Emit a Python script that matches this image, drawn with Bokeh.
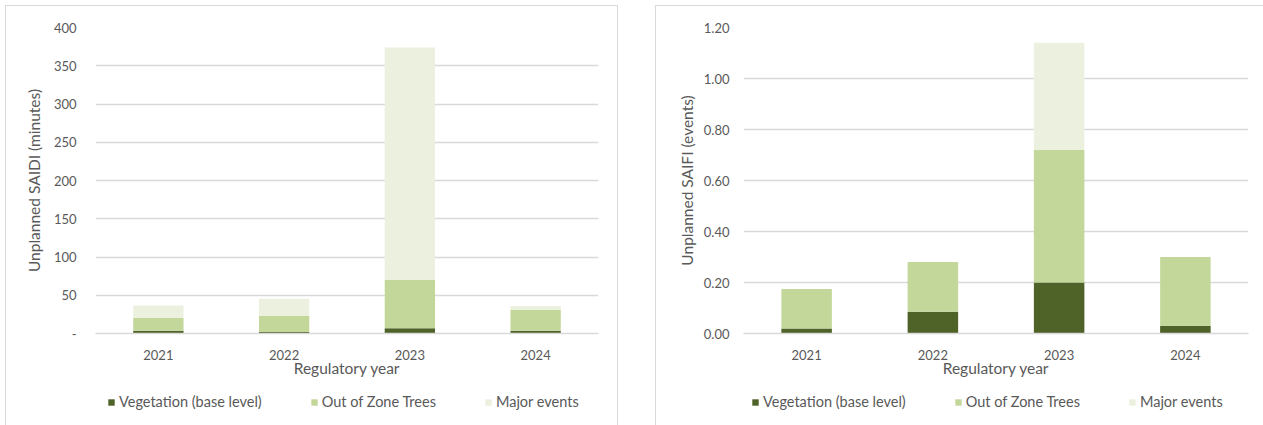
from bokeh.plotting import figure
from bokeh.models import (FactorRange, Range1d, FixedTicker, NumeralTickFormatter,
                          Legend, LegendItem, ColumnDataSource)
from bokeh.layouts import row, column
from bokeh.embed import file_html
from bokeh.resources import INLINE

# Regulatory years on the category axis
years = ["2021", "2022", "2023", "2024"]

# Unplanned SAIDI (minutes) by cause
saidi_vegetation = [3.5, 2.0, 7.0, 3.5]
saidi_out_of_zone = [17.0, 21.0, 63.0, 27.5]
saidi_major = [16.0, 22.5, 304.0, 5.0]

# Unplanned SAIFI (events) by cause
saifi_vegetation = [0.02, 0.085, 0.20, 0.03]
saifi_out_of_zone = [0.155, 0.195, 0.52, 0.27]
saifi_major = [0.0, 0.0, 0.42, 0.0]

series_names = ["Vegetation (base level)", "Out of Zone Trees", "Major events"]
series_colors = ["#4F6228", "#C4D79B", "#EBF1DE"]

saidi_ticks = [0, 50, 100, 150, 200, 250, 300, 350, 400]
saifi_ticks = [0.0, 0.2, 0.4, 0.6, 0.8, 1.0, 1.2]

FONT = "Lato"
TEXT = "#595959"
GRID = "#D9D9D9"


def stacked_chart(values, ymax, ticks, ylabel, width, left, right,
                  label_standoff, tick_standoff):
    p = figure(x_range=FactorRange(*years, range_padding=0), y_range=Range1d(0, ymax),
               width=width, height=379, output_backend="svg", toolbar_location=None,
               min_border_left=left, min_border_right=right,
               min_border_top=21, min_border_bottom=52)
    p.outline_line_color = None
    p.background_fill_color = "white"
    p.border_fill_color = "white"

    data = {"year": years}
    keys = []
    for i, v in enumerate(values):
        key = f"s{i}"
        data[key] = v
        keys.append(key)
    src = ColumnDataSource(data)
    p.vbar_stack(keys, x="year", width=0.4, color=series_colors,
                 line_color=None, source=src)

    # y axis: no line, no ticks, grey labels
    p.yaxis.ticker = FixedTicker(ticks=ticks)
    p.yaxis.axis_line_color = None
    p.yaxis.major_label_standoff = tick_standoff
    p.yaxis.axis_label = ylabel
    p.yaxis.axis_label_standoff = label_standoff

    # x axis: light baseline only
    p.xaxis.axis_line_color = GRID
    p.xaxis.axis_line_width = 1.5
    p.xaxis.major_label_standoff = 16
    p.xaxis.axis_label = "Regulatory year"
    p.xaxis.axis_label_standoff = -4

    for ax in (p.xaxis[0], p.yaxis[0]):
        ax.major_tick_line_color = None
        ax.minor_tick_line_color = None
        ax.major_tick_out = 0
        ax.major_tick_in = 0
        ax.minor_tick_out = 0
        ax.minor_tick_in = 0
        ax.major_label_text_font = FONT
        ax.major_label_text_font_size = "13px"
        ax.major_label_text_color = TEXT
        ax.axis_label_text_font = FONT
        ax.axis_label_text_font_size = "15.5px"
        ax.axis_label_text_font_style = "normal"
        ax.axis_label_text_color = TEXT

    p.xgrid.grid_line_color = None
    p.ygrid.grid_line_color = GRID
    p.ygrid.grid_line_width = 1.5
    p.ygrid.ticker = FixedTicker(ticks=ticks)
    return p


def legend_strip(width, legend_x):
    # a bare strip carrying the horizontal legend under each chart
    lg = figure(width=width, height=40, output_backend="svg", toolbar_location=None,
                x_axis_type=None, y_axis_type=None, min_border=0)
    lg.outline_line_color = None
    lg.xgrid.visible = False
    lg.ygrid.visible = False
    # zero-height bars: they only lend their fill colour to the legend swatches
    swatches = [lg.vbar(x=[0], top=[0], bottom=[0], width=0.4, fill_color=c, line_color=None)
                for c in series_colors]
    legend = Legend(items=[LegendItem(label=n, renderers=[r])
                           for n, r in zip(series_names, swatches)],
                    orientation="horizontal", location=(legend_x, 15),
                    glyph_width=8, glyph_height=8, label_standoff=4, spacing=48,
                    padding=0, margin=0, label_height=16,
                    label_text_font=FONT, label_text_font_size="14.5px",
                    label_text_color=TEXT, border_line_color=None,
                    background_fill_alpha=0)
    lg.add_layout(legend, "center")
    return lg


left_chart = stacked_chart([saidi_vegetation, saidi_out_of_zone, saidi_major], 400,
                           saidi_ticks, "Unplanned SAIDI (minutes)",
                           width=611, left=89, right=19,
                           label_standoff=8, tick_standoff=19)
left_chart.yaxis.major_label_overrides = {0: "-"}

right_chart = stacked_chart([saifi_vegetation, saifi_out_of_zone, saifi_major], 1.2,
                            saifi_ticks, "Unplanned SAIFI (events)",
                            width=607, left=87, right=15,
                            label_standoff=5, tick_standoff=14)
right_chart.yaxis.formatter = NumeralTickFormatter(format="0.00")

left_panel = column(left_chart, legend_strip(611, 12), spacing=0,
                    styles={"border-top": "1px solid #D9D9D9",
                            "border-left": "1px solid #D9D9D9",
                            "border-right": "1px solid #D9D9D9"},
                    margin=(5, 0, 0, 5))
right_panel = column(right_chart, legend_strip(607, 8), spacing=0,
                     styles={"border-top": "1px solid #D9D9D9",
                             "border-left": "1px solid #D9D9D9"},
                     margin=(5, 0, 0, 37))

layout = row(left_panel, right_panel, spacing=0)

open("out.html", "w").write(file_html(layout, INLINE))
